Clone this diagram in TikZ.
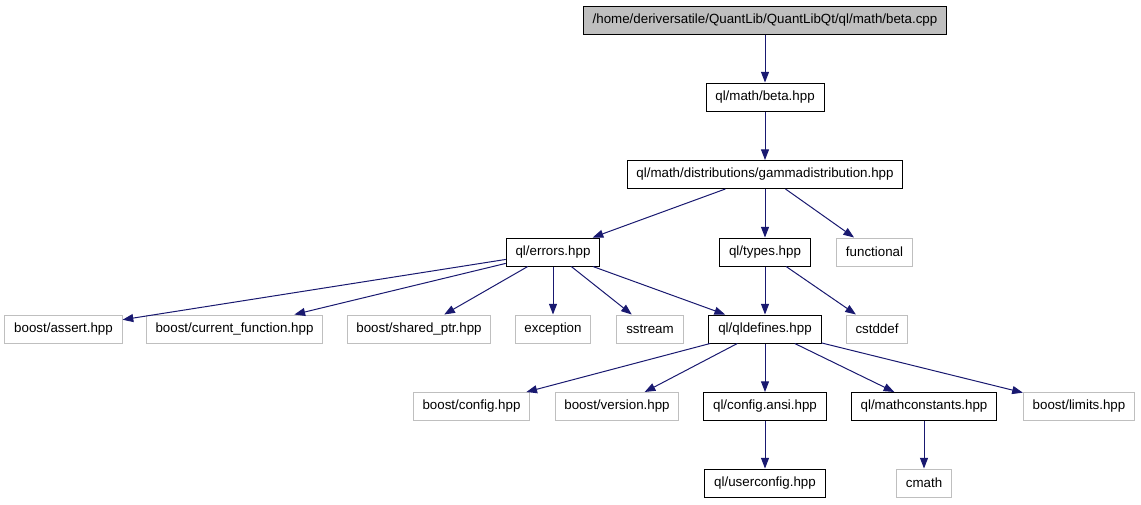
\documentclass[tikz,border=0pt]{standalone}
\usepackage{fontspec}
\setmainfont{Liberation Sans}
\usetikzlibrary{arrows.meta}
\definecolor{edgeblue}{RGB}{25,25,112}
\tikzset{
  file/.style={draw=black,line width=0.75pt,minimum height=21pt,inner xsep=7pt,inner ysep=0pt,font=\fontsize{10}{12}\selectfont},
  ext/.style={file,draw=black!25},
  dep/.style={draw=edgeblue,line width=0.75pt,-{Triangle[length=8pt,width=6pt]}}
}

\begin{document}
\begin{tikzpicture}[x=0.75pt,y=-0.75pt]
  \useasboundingbox (0,0) rectangle (1141,504);
  \node[file,fill=black!25] (cpp) at (765,20) {/home/deriversatile/QuantLib/QuantLibQt/ql/math/beta.cpp};
  \node[file] (beta) at (765,97) {ql/math/beta.hpp};
  \node[file] (gamma) at (765,174.5) {ql/math/distributions/gammadistribution.hpp};
  \node[file] (errors) at (553,252) {ql/errors.hpp};
  \node[file] (types) at (765,252) {ql/types.hpp};
  \node[ext] (functional) at (874.5,252) {functional};
  \node[ext] (assert) at (63.5,329) {boost/assert.hpp};
  \node[ext] (curfunc) at (234.5,329) {boost/current\_function.hpp};
  \node[ext] (sharedptr) at (419,329) {boost/shared\_ptr.hpp};
  \node[ext] (exception) at (553,329) {exception};
  \node[ext] (sstream) at (650,329) {sstream};
  \node[file] (qldefines) at (765,329) {ql/qldefines.hpp};
  \node[ext] (cstddef) at (877,329) {cstddef};
  \node[ext] (bconfig) at (471.5,406.5) {boost/config.hpp};
  \node[ext] (bversion) at (617,406.5) {boost/version.hpp};
  \node[file] (ansi) at (765,406.5) {ql/config.ansi.hpp};
  \node[file] (mathconst) at (924,406.5) {ql/mathconstants.hpp};
  \node[ext] (blimits) at (1079,406.5) {boost/limits.hpp};
  \node[file] (userconfig) at (765,483) {ql/userconfig.hpp};
  \node[ext] (cmath) at (924,483) {cmath};
  \draw[dep] (cpp) -- (beta);
  \draw[dep] (beta) -- (gamma);
  \draw[dep] (gamma) -- (errors);
  \draw[dep] (gamma) -- (types);
  \draw[dep] (gamma) -- (functional);
  \draw[dep] (errors) -- (assert);
  \draw[dep] (errors) -- (curfunc);
  \draw[dep] (errors) -- (sharedptr);
  \draw[dep] (errors) -- (exception);
  \draw[dep] (errors) -- (sstream);
  \draw[dep] (errors) -- (qldefines);
  \draw[dep] (types) -- (qldefines);
  \draw[dep] (types) -- (cstddef);
  \draw[dep] (qldefines) -- (bconfig);
  \draw[dep] (qldefines) -- (bversion);
  \draw[dep] (qldefines) -- (ansi);
  \draw[dep] (qldefines) -- (mathconst);
  \draw[dep] (qldefines) -- (blimits);
  \draw[dep] (ansi) -- (userconfig);
  \draw[dep] (mathconst) -- (cmath);
\end{tikzpicture}
\end{document}
